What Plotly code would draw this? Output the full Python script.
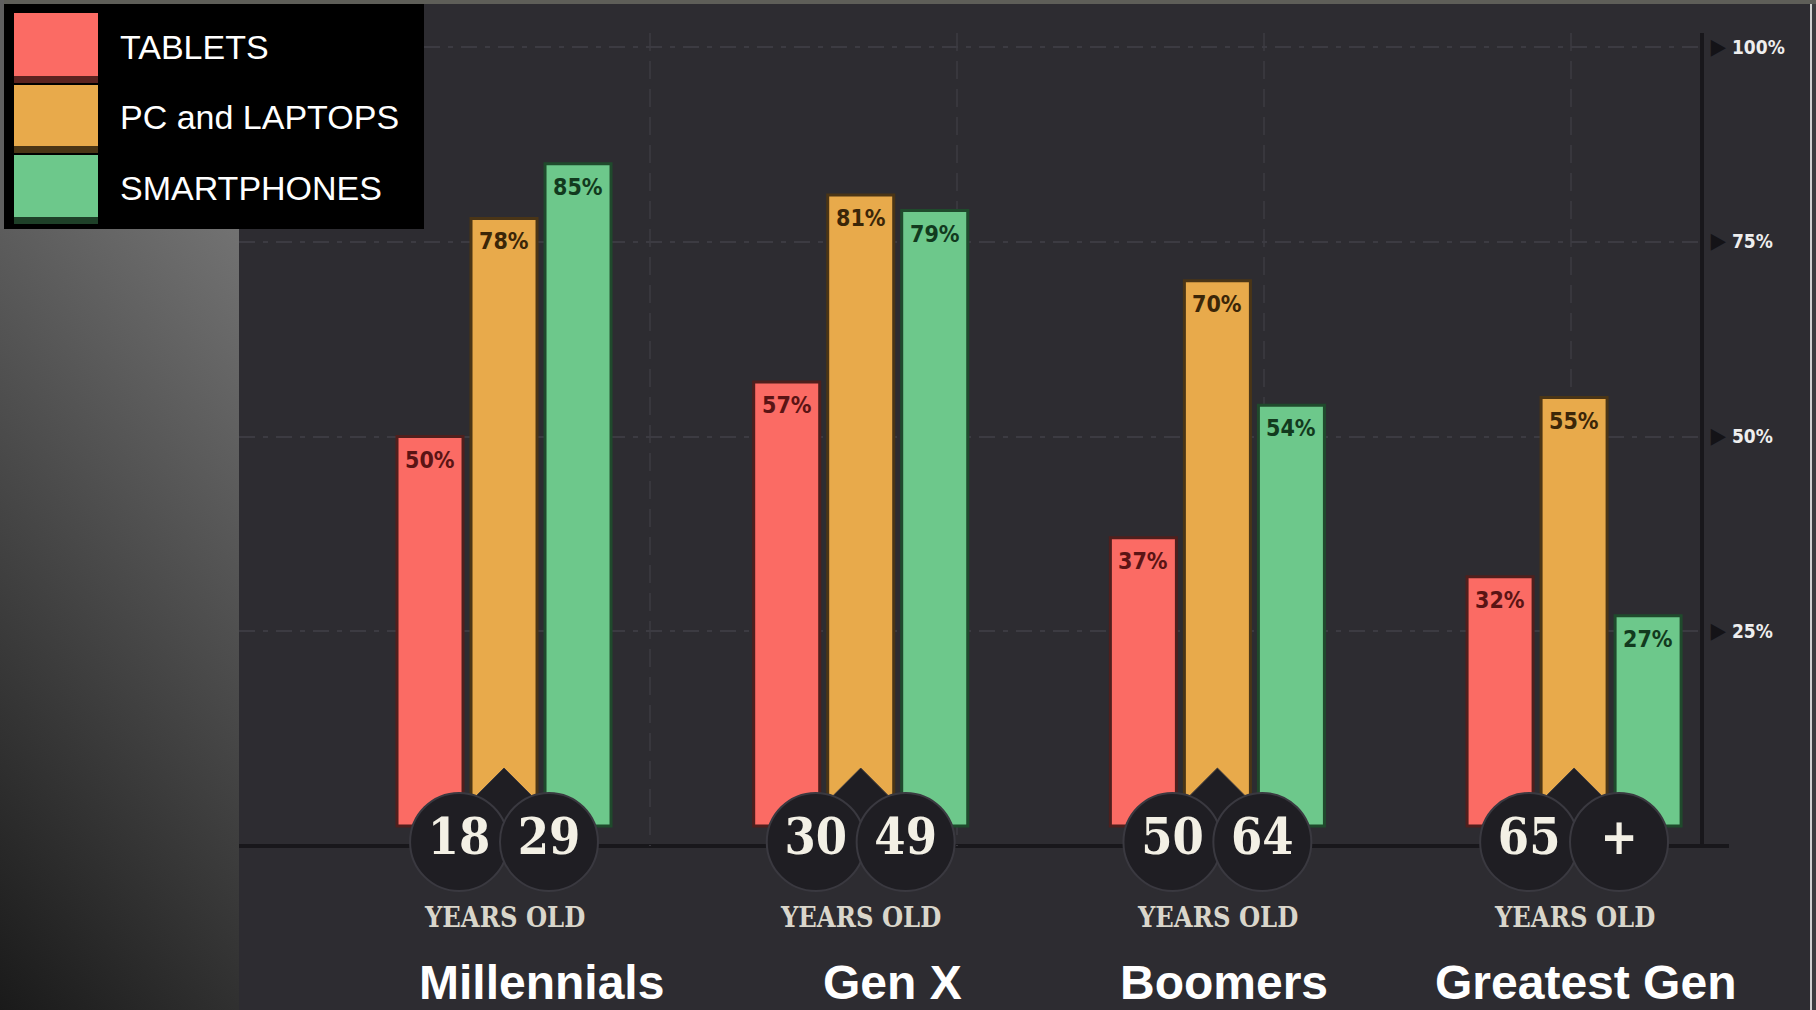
import base64
import plotly.graph_objects as go

# ---- data -------------------------------------------------------------
generations = ["Millennials", "Gen X", "Boomers", "Greatest Gen"]
age_from = ["18", "30", "50", "65"]
age_to = ["29", "49", "64", "+"]
series_names = ["TABLETS", "PC and LAPTOPS", "SMARTPHONES"]
tablets = [50, 57, 37, 32]
pcs_laptops = [78, 81, 70, 55]
smartphones = [85, 79, 54, 27]
tick_values = [25, 50, 75, 100]
tick_labels = ["25%", "50%", "75%", "100%"]

# ---- styling ----------------------------------------------------------
W, H = 1816, 1010
BG = "#2d2c31"
BAR_COLORS = ["#fb6b64", "#e8aa4b", "#6dc88b"]
BAR_EDGES = ["#4f1f1d", "#4a3516", "#1f4a2c"]
LABEL_COLORS = ["#5a1414", "#3b2608", "#123a1e"]
SHADE_COLORS = ["#5a2320", "#4a3515", "#1e4028"]
BADGE = "#1f1e23"
BADGE_EDGE = "#3a3940"
AXIS_DARK = "#18171b"
CREAM = "#f3f0e5"

BARGAP = 0.3775
BARGROUPGAP = 0.108
PITCH = (1 - BARGAP) / 3
BADGE_DX = 0.126          # horizontal offset of each badge circle from the group centre
BADGE_Y = -2.05           # badge centre, in axis units
PEAK_Y = 3.77             # small diamond peeking above the badges
NAME_SHIFT = [37, 32, 7, 11]

VALUE_FONT = "DejaVu Sans Condensed, DejaVu Sans"
SLAB_FONT = "DejaVu Serif Condensed, DejaVu Serif"
SANS = "Liberation Sans, Arial"


def px(x):
    return x / W


def py(y):
    return 1 - y / H


series = [tablets, pcs_laptops, smartphones]
groups = list(range(len(generations)))

fig = go.Figure()

for name, vals, col, edge in zip(series_names, series, BAR_COLORS, BAR_EDGES):
    fig.add_trace(go.Bar(
        x=groups, y=vals, name=name,
        marker=dict(color=col, line=dict(color=edge, width=3)),
        showlegend=False, hoverinfo="skip",
    ))

# small diamond tip between the two badge circles
fig.add_trace(go.Scatter(
    x=groups, y=[PEAK_Y] * len(groups), mode="markers",
    marker=dict(symbol="diamond", size=44, color=BADGE,
                line=dict(color=BADGE_EDGE, width=1)),
    cliponaxis=False, showlegend=False, hoverinfo="skip",
))

# age badges: two overlapping circles per generation
bx, by, bt = [], [], []
for i in groups:
    bx += [i - BADGE_DX, i + BADGE_DX]
    by += [BADGE_Y, BADGE_Y]
    bt += [age_from[i], age_to[i]]
fig.add_trace(go.Scatter(
    x=bx, y=by, text=bt, mode="markers+text", textposition="middle center",
    marker=dict(symbol="circle", size=98, color=BADGE,
                line=dict(color=BADGE_EDGE, width=2)),
    textfont=dict(family=SLAB_FONT, size=50, color=CREAM, weight="bold"),
    cliponaxis=False, showlegend=False, hoverinfo="skip",
))

annotations = []
# value labels just inside the top of each bar
for j, vals in enumerate(series):
    for i, v in enumerate(vals):
        annotations.append(dict(
            x=i + (j - 1) * PITCH, y=v, xref="x", yref="y",
            text=f"{v}%", showarrow=False, yanchor="middle", yshift=-23,
            font=dict(family=VALUE_FONT, size=23, color=LABEL_COLORS[j], weight="bold"),
        ))

for i, g in enumerate(generations):
    annotations.append(dict(
        x=i, y=py(917), xref="x", yref="paper", text="YEARS OLD",
        showarrow=False, yanchor="middle",
        font=dict(family=SLAB_FONT, size=27, color="#d9d6cb", weight="bold"),
    ))
    annotations.append(dict(
        x=i, y=py(982), xref="x", yref="paper", text=g, xshift=NAME_SHIFT[i],
        showarrow=False, yanchor="middle",
        font=dict(family=SANS, size=48, color="#ffffff", weight="bold"),
    ))

# legend drawn as a black panel with large swatches
shapes = []
rows = [(13, 76), (85, 146), (155, 217)]
shapes.append(dict(type="rect", xref="paper", yref="paper", layer="above",
                   x0=px(4), x1=px(424), y0=py(229), y1=py(4),
                   fillcolor="#000000", line=dict(width=0)))
for (y0, y1), col, shade, name in zip(rows, BAR_COLORS, SHADE_COLORS, series_names):
    shapes.append(dict(type="rect", xref="paper", yref="paper", layer="above",
                       x0=px(14), x1=px(98), y0=py(y1 + 7), y1=py(y1),
                       fillcolor=shade, line=dict(width=0)))
    shapes.append(dict(type="rect", xref="paper", yref="paper", layer="above",
                       x0=px(14), x1=px(98), y0=py(y1), y1=py(y0),
                       fillcolor=col, line=dict(width=0)))
    annotations.append(dict(
        x=px(118), y=py((y0 + y1) / 2 + 2), xref="paper", yref="paper",
        text=name, showarrow=False, xanchor="left", yanchor="middle",
        font=dict(family=SANS, size=34, color="#ffffff"),
    ))

# frame details
shapes += [
    dict(type="rect", xref="paper", yref="paper", layer="above",
         x0=0, x1=1, y0=py(4), y1=1, fillcolor="#5e5e58", line=dict(width=0)),
    dict(type="rect", xref="paper", yref="paper", layer="above",
         x0=0, x1=px(4), y0=py(229), y1=1, fillcolor="#5f5f5f", line=dict(width=0)),
    dict(type="line", xref="paper", yref="paper", layer="below",
         x0=px(239), x1=px(1729), y0=py(846), y1=py(846),
         line=dict(color=AXIS_DARK, width=4)),
    dict(type="rect", xref="paper", yref="paper", layer="above",
         x0=px(1812), x1=1, y0=0, y1=py(4), fillcolor="#3c3c3f", line=dict(width=0)),
    dict(type="line", xref="paper", yref="paper", layer="above",
         x0=px(1811), x1=px(1811), y0=0, y1=py(4),
         line=dict(color="#cfcfcf", width=2)),
]

# shaded panel on the left
svg = (
    "<svg xmlns='http://www.w3.org/2000/svg' width='239' height='781'>"
    "<defs><linearGradient id='g' gradientUnits='userSpaceOnUse' "
    "x1='239' y1='0' x2='-280' y2='477'>"
    "<stop offset='0' stop-color='#727272'/><stop offset='1' stop-color='#1a1a1a'/>"
    "</linearGradient></defs><rect width='239' height='781' fill='url(#g)'/></svg>"
)
svg_uri = "data:image/svg+xml;base64," + base64.b64encode(svg.encode()).decode()

tick_text = [f"<span style='color:#141317;font-size:22px'>▶</span> {t}" for t in tick_labels]

fig.update_layout(
    width=W, height=H,
    margin=dict(l=0, r=0, t=0, b=0),
    paper_bgcolor=BG, plot_bgcolor="rgba(0,0,0,0)",
    barmode="group", bargap=BARGAP, bargroupgap=BARGROUPGAP,
    showlegend=False,
    xaxis=dict(
        domain=[px(239), px(1700)], range=[-0.743, 3.353],
        showticklabels=False, ticks="", zeroline=False, showline=False,
        tickmode="array", tickvals=[0.409, 1.27, 2.131, 2.992],
        showgrid=True, gridcolor="#38373d", gridwidth=2, griddash="18px,10px",
    ),
    yaxis=dict(
        domain=[py(846), py(33)], range=[-2.567, 101.8],
        side="right", showline=True, linecolor=AXIS_DARK, linewidth=4,
        tickmode="array", tickvals=tick_values, ticktext=tick_text,
        ticks="", ticklabelstandoff=3,
        tickfont=dict(family=VALUE_FONT, size=19, color="#eeeeee", weight="bold"),
        showgrid=True, gridcolor="#3c3b42", gridwidth=2, griddash="16px,8px,5px,8px",
        zeroline=False,
    ),
    images=[dict(source=svg_uri, xref="paper", yref="paper",
                 x=0, y=py(229), sizex=px(239), sizey=781 / H,
                 xanchor="left", yanchor="top", sizing="stretch", layer="below")],
    shapes=shapes,
    annotations=annotations,
)

fig.write_html("out.html")
